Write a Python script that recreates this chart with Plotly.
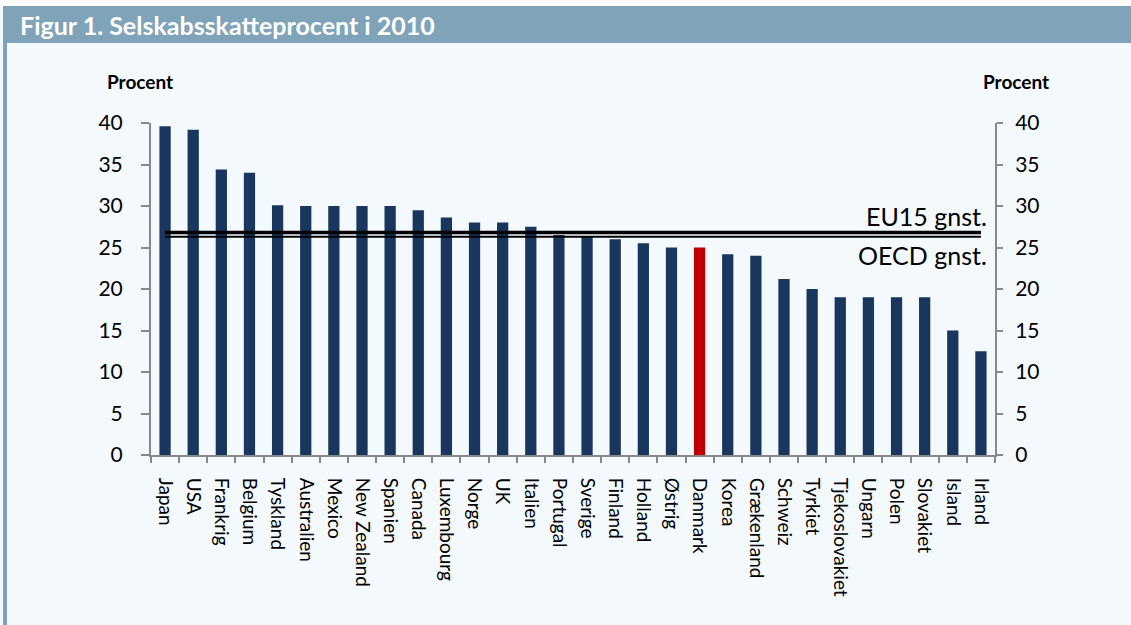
import plotly.graph_objects as go

countries = ["Japan", "USA", "Frankrig", "Belgium", "Tyskland", "Australien", "Mexico",
             "New Zealand", "Spanien", "Canada", "Luxembourg", "Norge", "UK", "Italien",
             "Portugal", "Sverige", "Finland", "Holland", "Østrig", "Danmark", "Korea",
             "Grækenland", "Schweiz", "Tyrkiet", "Tjekoslovakiet", "Ungarn", "Polen",
             "Slovakiet", "Island", "Irland"]
tax_rate = [39.6, 39.2, 34.4, 34.0, 30.1, 30.0, 30.0, 30.0, 30.0, 29.5, 28.6, 28.0, 28.0,
            27.5, 26.5, 26.3, 26.0, 25.5, 25.0, 25.0, 24.2, 24.0, 21.2, 20.0, 19.0, 19.0,
            19.0, 19.0, 15.0, 12.5]
highlight = "Danmark"
eu15_avg = 26.8
oecd_avg = 26.3
y_ticks = [0, 5, 10, 15, 20, 25, 30, 35, 40]

NAVY = "#19365E"
RED = "#C00000"
HEADER = "#7FA3B8"
BG = "#F4F9FD"
AXIS = "#888888"
FONT = "Lato"

colors = [RED if c == highlight else NAVY for c in countries]

fig = go.Figure()
fig.add_trace(go.Bar(x=countries, y=tax_rate, marker=dict(color=colors, line=dict(width=0)),
                     showlegend=False, hoverinfo="x+y"))
fig.add_trace(go.Scatter(x=[countries[0], countries[-1]], y=[eu15_avg, eu15_avg], mode="lines",
                         line=dict(color="black", width=3.5), yaxis="y2", showlegend=False))
fig.add_trace(go.Scatter(x=[countries[0], countries[-1]], y=[oecd_avg, oecd_avg], mode="lines",
                         line=dict(color="black", width=2), yaxis="y2", showlegend=False))

# geometry helpers (pixel -> paper)
L, R, T, B = 151, 136, 123, 170
W, H = 1131, 625
pw, ph = W - L - R, H - T - B
px = lambda x: (x - L) / pw
py = lambda y: (H - B - y) / ph

shapes = [
    dict(type="rect", xref="paper", yref="paper", x0=px(-5), x1=px(W + 5), y0=py(6), y1=py(-5),
         fillcolor="white", line=dict(width=0), layer="below"),
    dict(type="rect", xref="paper", yref="paper", x0=px(3), x1=px(W + 5), y0=py(43), y1=py(6),
         fillcolor=HEADER, line=dict(width=0), layer="below"),
    dict(type="rect", xref="paper", yref="paper", x0=px(3), x1=px(7), y0=py(H + 5), y1=py(43),
         fillcolor=HEADER, line=dict(width=0), layer="below"),
]

annotations = [
    dict(text="Figur 1. Selskabsskatteprocent i 2010", xref="paper", yref="paper",
         x=px(18), y=py(25), xanchor="left", yanchor="middle", showarrow=False,
         font=dict(family=FONT, size=25, color="white", weight="bold")),
    dict(text="Procent", xref="paper", yref="paper", x=px(105), y=py(81), xanchor="left",
         yanchor="middle", showarrow=False, font=dict(family=FONT, size=19, color="black", weight="bold")),
    dict(text="Procent", xref="paper", yref="paper", x=px(1051), y=py(81), xanchor="right",
         yanchor="middle", showarrow=False, font=dict(family=FONT, size=19, color="black", weight="bold")),
    dict(text="EU15 gnst.", xref="x", yref="y", x=countries[-1], y=eu15_avg, xanchor="right",
         yanchor="bottom", xshift=8, yshift=0, showarrow=False,
         font=dict(family=FONT, size=25, color="black")),
    dict(text="OECD gnst.", xref="x", yref="y", x=countries[-1], y=oecd_avg, xanchor="right",
         yanchor="top", xshift=8, yshift=-1, showarrow=False,
         font=dict(family=FONT, size=25, color="black")),
]

fig.update_layout(
    width=W, height=H,
    margin=dict(l=L, r=R, t=T, b=B, pad=0),
    paper_bgcolor=BG, plot_bgcolor=BG,
    bargap=0.6,
    shapes=shapes, annotations=annotations,
    font=dict(family=FONT, color="black"),
    xaxis=dict(showline=True, linecolor=AXIS, linewidth=2, ticks="outside", tickson="boundaries",
               ticklen=6, tickcolor=AXIS, tickwidth=1.5, tickangle=90, showgrid=False,
               tickfont=dict(family=FONT, size=19, color="black"), ticklabelstandoff=17,
               zeroline=False),
    yaxis=dict(range=[0, 40], tickvals=y_ticks, showline=True, linecolor=AXIS, linewidth=2,
               ticks="outside", ticklen=8, tickcolor=AXIS, tickwidth=1.5, showgrid=False,
               zeroline=False, tickfont=dict(family=FONT, size=21, color="black"),
               ticklabelstandoff=14),
    yaxis2=dict(range=[0, 40], tickvals=y_ticks, overlaying="y", side="right", showline=True,
                linecolor=AXIS, linewidth=2, ticks="outside", ticklen=6, tickcolor=AXIS,
                tickwidth=1.5, showgrid=False, zeroline=False,
                tickfont=dict(family=FONT, size=21, color="black"), ticklabelstandoff=8),
)

fig.write_html("out.html", config={"displayModeBar": False},
               post_script="document.body.style.margin='0';")
